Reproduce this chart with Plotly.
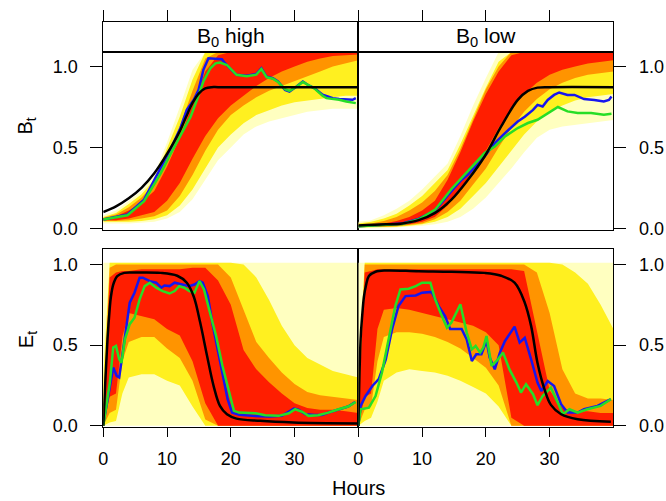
import plotly.graph_objects as go

FONT = "Liberation Sans, Arial, Helvetica, sans-serif"

# ------------- Density bands (lower / upper edge of each colour level) -------------

HOURS_B = [0, 2, 4, 6, 8, 10, 12, 14, 16, 18, 20, 22, 24, 26, 28, 30, 32, 34, 36, 38, 40]
HOURS_E = [0, 1, 2, 3, 4, 6, 8, 10, 12, 14, 16, 18, 20, 22, 24, 26, 28, 30, 32, 34, 36, 38, 40]

# B0 high
BH_PALE_LO = [0.03, 0.03, 0.03, 0.035, 0.04, 0.06, 0.10, 0.18, 0.30, 0.42, 0.50, 0.58, 0.63, 0.66, 0.68, 0.70, 0.72, 0.73, 0.74, 0.74, 0.74]
BH_PALE_HI = [0.08, 0.11, 0.17, 0.23, 0.33, 0.53, 0.75, 0.98, 1.09, 1.09, 1.09, 1.09, 1.09, 1.09, 1.09, 1.09, 1.09, 1.09, 1.09, 1.09, 1.09]
BH_YEL_LO = [0.04, 0.04, 0.04, 0.045, 0.055, 0.08, 0.14, 0.24, 0.37, 0.50, 0.58, 0.65, 0.70, 0.73, 0.76, 0.78, 0.79, 0.80, 0.81, 0.82, 0.82]
BH_YEL_HI = [0.07, 0.095, 0.15, 0.21, 0.30, 0.49, 0.69, 0.92, 1.09, 1.09, 1.09, 1.09, 1.09, 1.09, 1.09, 1.09, 1.09, 1.09, 1.09, 1.09, 1.09]
BH_ORA_LO = [0.045, 0.045, 0.05, 0.06, 0.075, 0.11, 0.20, 0.33, 0.48, 0.61, 0.70, 0.76, 0.81, 0.85, 0.88, 0.91, 0.94, 0.97, 1.00, 1.02, 1.04]
BH_ORA_HI = [0.065, 0.085, 0.13, 0.19, 0.27, 0.44, 0.63, 0.85, 1.05, 1.09, 1.09, 1.09, 1.09, 1.09, 1.09, 1.09, 1.09, 1.09, 1.09, 1.09, 1.09]
BH_RED_LO = [0.05, 0.05, 0.06, 0.08, 0.10, 0.17, 0.28, 0.43, 0.57, 0.68, 0.76, 0.82, 0.88, 0.93, 0.97, 1.00, 1.03, 1.05, 1.065, 1.07, 1.075]
BH_RED_HI = [0.06, 0.075, 0.11, 0.16, 0.23, 0.38, 0.56, 0.77, 0.97, 1.07, 1.09, 1.09, 1.09, 1.09, 1.09, 1.09, 1.09, 1.09, 1.09, 1.09, 1.09]

# B0 low
BL_PALE_LO = [0.0, 0.0, 0.0, 0.005, 0.01, 0.015, 0.025, 0.04, 0.07, 0.12, 0.19, 0.28, 0.37, 0.47, 0.56, 0.61, 0.63, 0.64, 0.65, 0.66, 0.67]
BL_PALE_HI = [0.04, 0.05, 0.08, 0.12, 0.17, 0.24, 0.32, 0.40, 0.57, 0.76, 0.93, 1.09, 1.09, 1.09, 1.09, 1.09, 1.09, 1.09, 1.09, 1.09, 1.09]
BL_YEL_LO = [0.005, 0.005, 0.008, 0.01, 0.015, 0.025, 0.04, 0.07, 0.12, 0.20, 0.28, 0.38, 0.48, 0.58, 0.66, 0.72, 0.76, 0.79, 0.81, 0.82, 0.83]
BL_YEL_HI = [0.03, 0.04, 0.06, 0.09, 0.14, 0.20, 0.28, 0.36, 0.52, 0.70, 0.87, 1.03, 1.09, 1.09, 1.09, 1.09, 1.09, 1.09, 1.09, 1.09, 1.09]
BL_ORA_LO = [0.008, 0.008, 0.01, 0.012, 0.02, 0.03, 0.055, 0.10, 0.17, 0.27, 0.37, 0.50, 0.62, 0.72, 0.80, 0.86, 0.90, 0.93, 0.95, 0.96, 0.97]
BL_ORA_HI = [0.025, 0.03, 0.045, 0.07, 0.11, 0.16, 0.23, 0.33, 0.49, 0.68, 0.86, 1.00, 1.09, 1.09, 1.09, 1.09, 1.09, 1.09, 1.09, 1.09, 1.09]
BL_RED_LO = [0.01, 0.01, 0.012, 0.015, 0.025, 0.04, 0.07, 0.14, 0.24, 0.36, 0.48, 0.62, 0.74, 0.83, 0.90, 0.95, 0.98, 1.00, 1.02, 1.03, 1.04]
BL_RED_HI = [0.02, 0.02, 0.03, 0.045, 0.07, 0.11, 0.17, 0.30, 0.47, 0.66, 0.83, 0.97, 1.07, 1.09, 1.09, 1.09, 1.09, 1.09, 1.09, 1.09, 1.09]

# E high
EH_PALE_LO = [0.0, 0.0, 0.0, 0.0, 0.0, 0.0, 0.0, 0.0, 0.0, 0.0, 0.0, 0.0, 0.0, 0.0, 0.0, 0.0, 0.0, 0.0, 0.0, 0.0, 0.0, 0.0, 0.0]
EH_PALE_HI = [1.01, 1.01, 1.01, 1.01, 1.01, 1.01, 1.01, 1.01, 1.01, 1.01, 1.01, 1.01, 1.01, 1.01, 1.01, 1.01, 1.01, 1.01, 1.01, 1.01, 1.01, 1.01, 1.01]
EH_YEL_LO = [0.0, 0.02, 0.03, 0.20, 0.30, 0.32, 0.32, 0.28, 0.25, 0.12, 0.0, 0.0, 0.0, 0.0, 0.0, 0.0, 0.0, 0.0, 0.0, 0.0, 0.0, 0.0, 0.0]
EH_YEL_HI = [0.30, 1.01, 1.01, 1.01, 1.01, 1.01, 1.01, 1.01, 1.01, 1.01, 1.01, 1.01, 1.01, 1.00, 0.92, 0.78, 0.62, 0.50, 0.42, 0.38, 0.34, 0.32, 0.30]
EH_ORA_LO = [0.0, 0.08, 0.10, 0.40, 0.52, 0.55, 0.55, 0.48, 0.42, 0.28, 0.04, 0.0, 0.0, 0.0, 0.0, 0.0, 0.0, 0.0, 0.0, 0.0, 0.0, 0.0, 0.0]
EH_ORA_HI = [0.10, 0.98, 1.0, 1.0, 1.0, 1.0, 1.0, 1.0, 1.0, 1.0, 1.0, 1.0, 0.92, 0.72, 0.52, 0.42, 0.33, 0.26, 0.21, 0.19, 0.18, 0.17, 0.16]
EH_RED_LO = [0.0, 0.18, 0.20, 0.55, 0.70, 0.68, 0.66, 0.60, 0.56, 0.40, 0.14, 0.0, 0.0, 0.0, 0.0, 0.0, 0.0, 0.0, 0.0, 0.0, 0.0, 0.0, 0.0]
EH_RED_HI = [0.04, 0.92, 0.95, 0.96, 0.96, 0.97, 0.97, 0.97, 0.97, 0.98, 0.98, 0.90, 0.75, 0.47, 0.35, 0.27, 0.20, 0.14, 0.11, 0.10, 0.10, 0.09, 0.08]

# E low
EL_PALE_LO = [0.0, 0.0, 0.0, 0.0, 0.0, 0.0, 0.0, 0.0, 0.0, 0.0, 0.0, 0.0, 0.0, 0.0, 0.0, 0.0, 0.0, 0.0, 0.0, 0.0, 0.0, 0.0, 0.0]
EL_PALE_HI = [1.01, 1.01, 1.01, 1.01, 1.01, 1.01, 1.01, 1.01, 1.01, 1.01, 1.01, 1.01, 1.01, 1.01, 1.01, 1.01, 1.01, 1.01, 1.01, 1.01, 1.01, 1.01, 1.01]
EL_YEL_LO = [0.0, 0.03, 0.05, 0.15, 0.28, 0.33, 0.35, 0.34, 0.33, 0.31, 0.28, 0.24, 0.20, 0.12, 0.0, 0.0, 0.0, 0.0, 0.0, 0.0, 0.0, 0.0, 0.0]
EL_YEL_HI = [0.30, 1.01, 1.01, 1.01, 1.01, 1.01, 1.01, 1.01, 1.01, 1.01, 1.01, 1.01, 1.01, 1.01, 1.01, 1.01, 1.01, 1.01, 1.00, 0.95, 0.88, 0.75, 0.60]
EL_ORA_LO = [0.0, 0.10, 0.12, 0.40, 0.55, 0.58, 0.58, 0.57, 0.55, 0.52, 0.48, 0.42, 0.36, 0.25, 0.0, 0.0, 0.0, 0.0, 0.0, 0.0, 0.0, 0.0, 0.0]
EL_ORA_HI = [0.10, 1.0, 1.0, 1.0, 1.0, 1.0, 1.0, 1.0, 1.0, 1.0, 1.0, 1.0, 1.0, 1.0, 1.0, 1.0, 0.95, 0.70, 0.35, 0.20, 0.17, 0.17, 0.16]
EL_RED_LO = [0.0, 0.18, 0.20, 0.60, 0.72, 0.73, 0.72, 0.70, 0.68, 0.66, 0.64, 0.62, 0.58, 0.50, 0.05, 0.0, 0.0, 0.0, 0.0, 0.0, 0.0, 0.0, 0.0]
EL_RED_HI = [0.04, 0.95, 0.96, 0.97, 0.97, 0.97, 0.97, 0.97, 0.97, 0.97, 0.97, 0.97, 0.97, 0.97, 0.97, 0.96, 0.60, 0.22, 0.11, 0.09, 0.09, 0.08, 0.08]

# ------------- Lines (blue, green, black) -------------

BH_BLUE_H = [0, 3.8, 6.4, 9.0, 10.5, 12.1, 13.1, 14.2, 14.95, 15.7, 16.3, 16.5, 18.6, 19.1, 20.1, 20.9, 22.5, 24.0, 24.8, 25.6, 26.6, 27.4, 28.5, 29.2, 30.3, 31.3, 32.3, 33.1, 34.4, 36.0, 37.0, 38.1, 39.1, 39.6]
BH_BLUE_V = [0.054, 0.085, 0.177, 0.372, 0.486, 0.62, 0.733, 0.795, 0.856, 0.98, 1.042, 1.052, 1.046, 1.021, 0.98, 0.949, 0.943, 0.955, 0.99, 0.938, 0.928, 0.908, 0.856, 0.846, 0.877, 0.908, 0.882, 0.867, 0.826, 0.805, 0.799, 0.795, 0.795, 0.805]
BH_GREEN_H = [0, 3.8, 6.4, 9.0, 10.5, 12.1, 13.7, 14.7, 15.7, 16.8, 17.6, 18.3, 19.4, 20.9, 22.5, 24.0, 24.8, 25.6, 26.6, 27.4, 28.5, 29.2, 30.3, 31.3, 32.3, 33.1, 34.4, 35.0, 37.0, 38.1, 39.6]
BH_GREEN_V = [0.054, 0.08, 0.167, 0.34, 0.455, 0.568, 0.69, 0.795, 0.908, 0.99, 1.02, 1.025, 1.01, 0.949, 0.94, 0.95, 0.985, 0.935, 0.925, 0.905, 0.86, 0.85, 0.875, 0.905, 0.88, 0.865, 0.82, 0.805, 0.795, 0.784, 0.774]
BH_BLACK_H = [0, 2, 4, 6, 8, 10, 12, 13, 14, 15, 16, 17, 18, 40]
BH_BLACK_V = [0.10, 0.135, 0.185, 0.25, 0.34, 0.46, 0.60, 0.69, 0.775, 0.835, 0.865, 0.873, 0.873, 0.873]

BL_BLUE_H = [0, 6.9, 9.45, 12.05, 14.6, 16.2, 17.2, 19.8, 21.4, 23.0, 25.0, 26.1, 27.4, 28.1, 28.9, 29.7, 30.7, 31.5, 32.8, 33.9, 35.4, 37.0, 38.5, 39.3, 39.7]
BL_BLUE_V = [0.012, 0.029, 0.058, 0.111, 0.229, 0.30, 0.332, 0.444, 0.527, 0.589, 0.66, 0.69, 0.732, 0.763, 0.753, 0.794, 0.825, 0.84, 0.825, 0.825, 0.799, 0.794, 0.784, 0.794, 0.815]
BL_GREEN_H = [0, 6.9, 9.45, 12.05, 14.6, 17.2, 19.8, 21.4, 23.0, 25.0, 26.6, 28.1, 29.7, 31.3, 32.8, 34.4, 36.5, 38.5, 39.7]
BL_GREEN_V = [0.012, 0.026, 0.054, 0.115, 0.243, 0.352, 0.465, 0.506, 0.568, 0.62, 0.651, 0.671, 0.713, 0.75, 0.723, 0.713, 0.713, 0.702, 0.708]
BL_BLACK_H = [0, 4.3, 6.9, 9.45, 12.05, 14.6, 17.2, 19.8, 22.4, 25.0, 26.6, 28.1, 30.0, 40]
BL_BLACK_V = [0.017, 0.024, 0.03, 0.05, 0.095, 0.177, 0.30, 0.444, 0.63, 0.794, 0.85, 0.87, 0.873, 0.873]

EH_BLUE_H = [0, 1.56, 2.1, 2.5, 2.86, 3.4, 4.15, 4.9, 5.7, 6.2, 7.3, 8.3, 9.1, 9.6, 10.4, 11.2, 12.2, 13.5, 14.3, 15.1, 15.6, 16.4, 17.1, 17.9, 18.7, 19.5, 20.2, 21.3, 23.4, 26.0, 28.0, 29.1, 29.9, 30.6, 31.7, 33.2, 34.3, 35.3, 36.3, 37.4, 38.4, 39.5]
EH_BLUE_V = [0.01, 0.361, 0.31, 0.30, 0.40, 0.56, 0.763, 0.825, 0.918, 0.918, 0.897, 0.887, 0.856, 0.87, 0.866, 0.887, 0.876, 0.866, 0.876, 0.897, 0.887, 0.804, 0.639, 0.474, 0.309, 0.165, 0.082, 0.068, 0.062, 0.058, 0.062, 0.087, 0.107, 0.10, 0.072, 0.068, 0.068, 0.082, 0.095, 0.107, 0.12, 0.148]
EH_GREEN_H = [0, 1.04, 1.56, 2.0, 2.5, 2.86, 3.4, 4.15, 4.9, 5.7, 6.5, 7.3, 8.3, 9.3, 10.4, 11.2, 11.9, 12.7, 13.5, 14.3, 15.1, 15.8, 16.6, 17.7, 18.7, 19.7, 20.5, 21.3, 23.9, 25.4, 27.5, 29.1, 30.1, 31.2, 32.2, 33.7, 35.3, 36.9, 38.4, 39.6]
EH_GREEN_V = [0.0, 0.27, 0.485, 0.495, 0.412, 0.39, 0.536, 0.63, 0.67, 0.784, 0.866, 0.887, 0.856, 0.835, 0.82, 0.835, 0.866, 0.856, 0.835, 0.825, 0.897, 0.845, 0.722, 0.557, 0.371, 0.206, 0.093, 0.082, 0.078, 0.066, 0.062, 0.078, 0.103, 0.087, 0.062, 0.066, 0.082, 0.103, 0.12, 0.148]
EH_BLACK_H = [0, 0.35, 0.67, 1.0, 1.2, 1.6, 2.2, 3.3, 5, 9, 11.6, 13.1, 14.2, 15.2, 16.3, 17.3, 18.3, 19.4, 20.9, 24.6, 29.8, 40]
EH_BLACK_V = [0.0, 0.3, 0.54, 0.72, 0.80, 0.88, 0.928, 0.948, 0.95, 0.948, 0.93, 0.887, 0.80, 0.64, 0.43, 0.248, 0.124, 0.072, 0.045, 0.031, 0.021, 0.015]

EL_BLUE_H = [0, 0.36, 1.14, 2.2, 3.2, 4.3, 5.3, 6.3, 7.4, 9.0, 10.0, 11.5, 12.6, 13.6, 14.4, 15.2, 16.2, 17.0, 17.8, 18.5, 19.3, 20.1, 20.6, 21.4, 22.2, 23.0, 24.0, 24.5, 25.3, 26.1, 27.1, 28.1, 28.7, 29.7, 30.7, 31.8, 32.8, 34.4, 35.4, 37.5, 39.6]
EL_BLUE_V = [0.0, 0.124, 0.185, 0.247, 0.29, 0.41, 0.60, 0.742, 0.804, 0.808, 0.825, 0.83, 0.742, 0.68, 0.60, 0.60, 0.60, 0.536, 0.402, 0.443, 0.443, 0.526, 0.423, 0.35, 0.454, 0.526, 0.588, 0.615, 0.516, 0.546, 0.412, 0.268, 0.216, 0.278, 0.247, 0.134, 0.082, 0.082, 0.103, 0.124, 0.165]
EL_GREEN_H = [0, 0.36, 1.66, 2.7, 3.7, 4.8, 5.8, 6.6, 7.9, 9.0, 10.0, 11.3, 12.05, 13.1, 13.9, 14.6, 16.0, 17.0, 17.8, 18.4, 19.1, 19.6, 20.1, 20.9, 21.9, 22.7, 23.7, 24.8, 25.5, 26.3, 27.4, 28.1, 28.9, 30.2, 31.0, 32.1, 33.1, 34.4, 35.9, 38.0, 39.6]
EL_GREEN_V = [0.0, 0.103, 0.113, 0.185, 0.33, 0.536, 0.742, 0.845, 0.85, 0.866, 0.887, 0.887, 0.784, 0.68, 0.608, 0.64, 0.753, 0.578, 0.474, 0.495, 0.454, 0.485, 0.557, 0.371, 0.412, 0.454, 0.35, 0.268, 0.206, 0.258, 0.196, 0.128, 0.185, 0.237, 0.165, 0.072, 0.103, 0.082, 0.103, 0.124, 0.165]
EL_BLACK_H = [0, 0.36, 0.6, 0.88, 1.2, 1.66, 2.7, 4.3, 9.45, 14.6, 19.8, 22.4, 24.5, 26.1, 27.1, 28.1, 29.2, 30.2, 31.8, 34.4, 39.6]
EL_BLACK_V = [0.0, 0.54, 0.68, 0.80, 0.87, 0.928, 0.955, 0.963, 0.958, 0.955, 0.948, 0.93, 0.887, 0.763, 0.618, 0.39, 0.226, 0.13, 0.072, 0.041, 0.025]

PALE, YELLOW, ORANGE, RED = "#FFFFC0", "#FFF020", "#FF9400", "#FF1E00"
BLUE, GREEN, BLACK = "#1616EE", "#26DE26", "#000000"


def add_band(fig, hours, lo, hi, color, ax):
    fig.add_trace(go.Scatter(
        x=hours + hours[::-1], y=hi + lo[::-1],
        fill="toself", fillcolor=color, mode="lines", line=dict(width=0, color=color),
        hoverinfo="skip", showlegend=False, xaxis="x" + ax, yaxis="y" + ax,
    ))


def add_line(fig, hours, vals, color, ax, shape="linear"):
    fig.add_trace(go.Scatter(
        x=hours, y=vals, mode="lines", line=dict(color=color, width=2.5, shape=shape),
        hoverinfo="skip", showlegend=False, xaxis="x" + ax, yaxis="y" + ax,
    ))


fig = go.Figure()

panels = [
    ("", HOURS_B, [(BH_PALE_LO, BH_PALE_HI), (BH_YEL_LO, BH_YEL_HI), (BH_ORA_LO, BH_ORA_HI), (BH_RED_LO, BH_RED_HI)],
     [(BH_BLUE_H, BH_BLUE_V), (BH_GREEN_H, BH_GREEN_V), (BH_BLACK_H, BH_BLACK_V)]),
    ("2", HOURS_B, [(BL_PALE_LO, BL_PALE_HI), (BL_YEL_LO, BL_YEL_HI), (BL_ORA_LO, BL_ORA_HI), (BL_RED_LO, BL_RED_HI)],
     [(BL_BLUE_H, BL_BLUE_V), (BL_GREEN_H, BL_GREEN_V), (BL_BLACK_H, BL_BLACK_V)]),
    ("3", HOURS_E, [(EH_PALE_LO, EH_PALE_HI), (EH_YEL_LO, EH_YEL_HI), (EH_ORA_LO, EH_ORA_HI), (EH_RED_LO, EH_RED_HI)],
     [(EH_BLUE_H, EH_BLUE_V), (EH_GREEN_H, EH_GREEN_V), (EH_BLACK_H, EH_BLACK_V)]),
    ("4", HOURS_E, [(EL_PALE_LO, EL_PALE_HI), (EL_YEL_LO, EL_YEL_HI), (EL_ORA_LO, EL_ORA_HI), (EL_RED_LO, EL_RED_HI)],
     [(EL_BLUE_H, EL_BLUE_V), (EL_GREEN_H, EL_GREEN_V), (EL_BLACK_H, EL_BLACK_V)]),
]

for ax, hours, bands, lines in panels:
    for (lo, hi), col in zip(bands, [PALE, YELLOW, ORANGE, RED]):
        add_band(fig, hours, lo, hi, col, ax)
    for (h, v), col in zip(lines, [BLUE, GREEN, BLACK]):
        add_line(fig, h, v, col, ax, shape="spline" if col == BLACK else "linear")

# empty traces so the strip subplots get drawn
for ax in ["5", "6"]:
    fig.add_trace(go.Scatter(x=[None], y=[None], mode="lines", showlegend=False,
                             xaxis="x" + ax, yaxis="y" + ax))

# ------------- Layout -------------

# the photographed page comes out slightly squeezed vertically, so the figure is made a
# little taller; positions below are fractions of the 666x501 reference
FIG_W, FIG_H = 666, 509

X_LEFT = [99 / 666, 356 / 666]
X_RIGHT = [356 / 666, 613 / 666]
Y_TOP = [1 - 230 / 501, 1 - 52 / 501]
Y_BOT = [1 - 428 / 501, 1 - 249 / 501]
Y_STRIP = [1 - 52 / 501, 1 - 22 / 501]

tick_font = dict(family=FONT, size=18, color="black")
frame = dict(showline=True, linecolor="black", linewidth=1, mirror=True,
             showgrid=False, zeroline=False, tickcolor="black", tickwidth=1, tickfont=tick_font)

x_hidden = dict(frame, range=[0, 40], showticklabels=False, ticks="")
x_bottom = dict(frame, range=[0, 40], ticks="outside", ticklen=9, tickvals=[0, 10, 20, 30],
                ticklabelstandoff=6)
x_strip = dict(frame, range=[0, 40], side="top", ticks="outside", ticklen=11,
               tickvals=[0, 10, 20, 30], showticklabels=False)
y_vals = dict(tickvals=[0, 0.5, 1.0], ticktext=["0.0", "0.5", "1.0"], ticks="outside", ticklen=12,
              ticklabelstandoff=9)
y_strip = dict(frame, range=[0, 1], showticklabels=False, ticks="")

fig.update_layout(
    width=FIG_W, height=FIG_H, autosize=False,
    margin=dict(l=0, r=0, t=0, b=0),
    paper_bgcolor="white", plot_bgcolor="white",
    font=dict(family=FONT, color="black"),
    showlegend=False,
    xaxis=dict(x_hidden, domain=X_LEFT, anchor="y"),
    xaxis2=dict(x_hidden, domain=X_RIGHT, anchor="y2"),
    xaxis3=dict(x_bottom, domain=X_LEFT, anchor="y3"),
    xaxis4=dict(x_bottom, domain=X_RIGHT, anchor="y4"),
    xaxis5=dict(x_strip, domain=X_LEFT, anchor="y5"),
    xaxis6=dict(x_strip, domain=X_RIGHT, anchor="y6"),
    yaxis=dict(frame, **y_vals, domain=Y_TOP, anchor="x", range=[-0.008, 1.091], side="left"),
    yaxis2=dict(frame, **y_vals, domain=Y_TOP, anchor="x2", range=[-0.008, 1.091], side="right"),
    yaxis3=dict(frame, **y_vals, domain=Y_BOT, anchor="x3", range=[-0.008, 1.099], side="left"),
    yaxis4=dict(frame, **y_vals, domain=Y_BOT, anchor="x4", range=[-0.008, 1.099], side="right"),
    yaxis5=dict(y_strip, domain=Y_STRIP, anchor="x5"),
    yaxis6=dict(y_strip, domain=Y_STRIP, anchor="x6"),
)

label_font = dict(family=FONT, size=20, color="black")
strip_font = dict(family=FONT, size=21, color="black")
fig.add_annotation(text="B<sub>0</sub> high", x=227.5 / 666, y=1 - 37 / 501, xref="paper", yref="paper",
                   showarrow=False, font=strip_font, xanchor="center", yanchor="middle")
fig.add_annotation(text="B<sub>0</sub> low", x=484.5 / 666, y=1 - 37 / 501, xref="paper", yref="paper",
                   showarrow=False, font=strip_font, xanchor="center", yanchor="middle")
fig.add_annotation(text="Hours", x=356 / 666, y=1 - 489 / 501, xref="paper", yref="paper",
                   showarrow=False, font=label_font, xanchor="center", yanchor="middle")
fig.add_annotation(text="B<sub>t</sub>", x=22 / 666, y=1 - 126 / 501, xref="paper", yref="paper",
                   showarrow=False, font=label_font, textangle=-90, xanchor="center", yanchor="middle")
fig.add_annotation(text="E<sub>t</sub>", x=22 / 666, y=1 - 340 / 501, xref="paper", yref="paper",
                   showarrow=False, font=label_font, textangle=-90, xanchor="center", yanchor="middle")

# the page has default margins; drop them so the figure sits exactly in the window
page_css = (
    "document.documentElement.style.margin='0px';"
    "document.documentElement.style.padding='0px';"
    "document.documentElement.style.overflow='hidden';"
    "document.body.style.margin='0px';"
    "document.body.style.padding='0px';"
    "document.body.style.overflow='hidden';"
)
fig.write_html("out.html", config={"displayModeBar": False}, post_script=page_css)
